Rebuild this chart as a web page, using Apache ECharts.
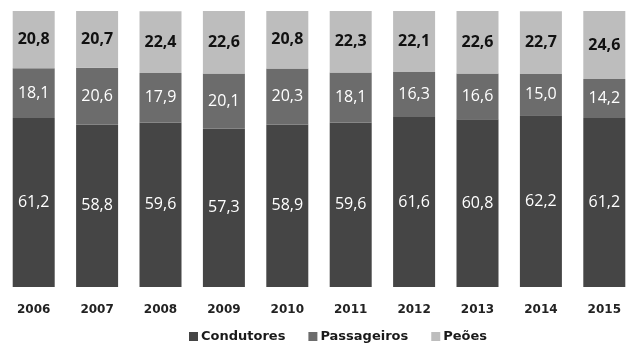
<!DOCTYPE html>
<html>
<head>
<meta charset="utf-8">
<script src="https://cdn.jsdelivr.net/npm/echarts@6/dist/echarts.min.js"></script>
<style>
  html, body { margin: 0; padding: 0; background: #fff; }
  #chart { width: 636px; height: 350px; }
</style>
</head>
<body>
<div id="chart"></div>
<script>
// anos
var years = ['2006', '2007', '2008', '2009', '2010', '2011', '2012', '2013', '2014', '2015'];
// percentagens por tipo de utente
var condutores = [61.2, 58.8, 59.6, 57.3, 58.9, 59.6, 61.6, 60.8, 62.2, 61.2];
var passageiros = [18.1, 20.6, 17.9, 20.1, 20.3, 18.1, 16.3, 16.6, 15.0, 14.2];
var peoes = [20.8, 20.7, 22.4, 22.6, 20.8, 22.3, 22.1, 22.6, 22.7, 24.6];

var fmt = function (p) { return p.value.toFixed(1).replace('.', ','); };

var chart = echarts.init(document.getElementById('chart'));
chart.setOption({
    animation: false,
    grid: { left: 2, right: -4, top: 11, bottom: 63 },
    legend: {
        bottom: 2,
        left: 184,
        itemWidth: 9,
        itemHeight: 9,
        itemGap: 23,
        itemStyle: { borderWidth: 0 },
        icon: 'rect',
        textStyle: { fontFamily: 'DejaVu Sans', fontWeight: 'bold', fontSize: 13, color: '#1a1a1a', padding: [0, 0, 0, -2] },
        data: ['Condutores', 'Passageiros', 'Peões']
    },
    xAxis: {
        type: 'category',
        data: years,
        axisLine: { show: false },
        axisTick: { show: false },
        axisLabel: { margin: 17, fontFamily: 'DejaVu Sans', fontWeight: 'bold', fontSize: 12, color: '#222' }
    },
    yAxis: {
        type: 'value',
        min: 0,
        max: 100,
        show: false
    },
    series: [{
        name: 'Condutores',
        type: 'bar',
        stack: 'a',
        barWidth: 42,
        data: condutores,
        itemStyle: { color: '#454545' },
        label: { show: true, position: 'inside', formatter: fmt, color: '#fff', fontFamily: 'Open Sans', fontSize: 16 }
    }, {
        name: 'Passageiros',
        type: 'bar',
        stack: 'a',
        data: passageiros,
        itemStyle: { color: '#6c6c6c' },
        label: { show: true, position: 'inside', formatter: fmt, color: '#fff', fontFamily: 'Open Sans', fontSize: 16 }
    }, {
        name: 'Peões',
        type: 'bar',
        stack: 'a',
        data: peoes,
        itemStyle: { color: '#bdbdbd' },
        label: { show: true, position: 'inside', formatter: fmt, color: '#111', fontFamily: 'Open Sans', fontWeight: 'bold', fontSize: 16 }
    }]
});
</script>
</body>
</html>
